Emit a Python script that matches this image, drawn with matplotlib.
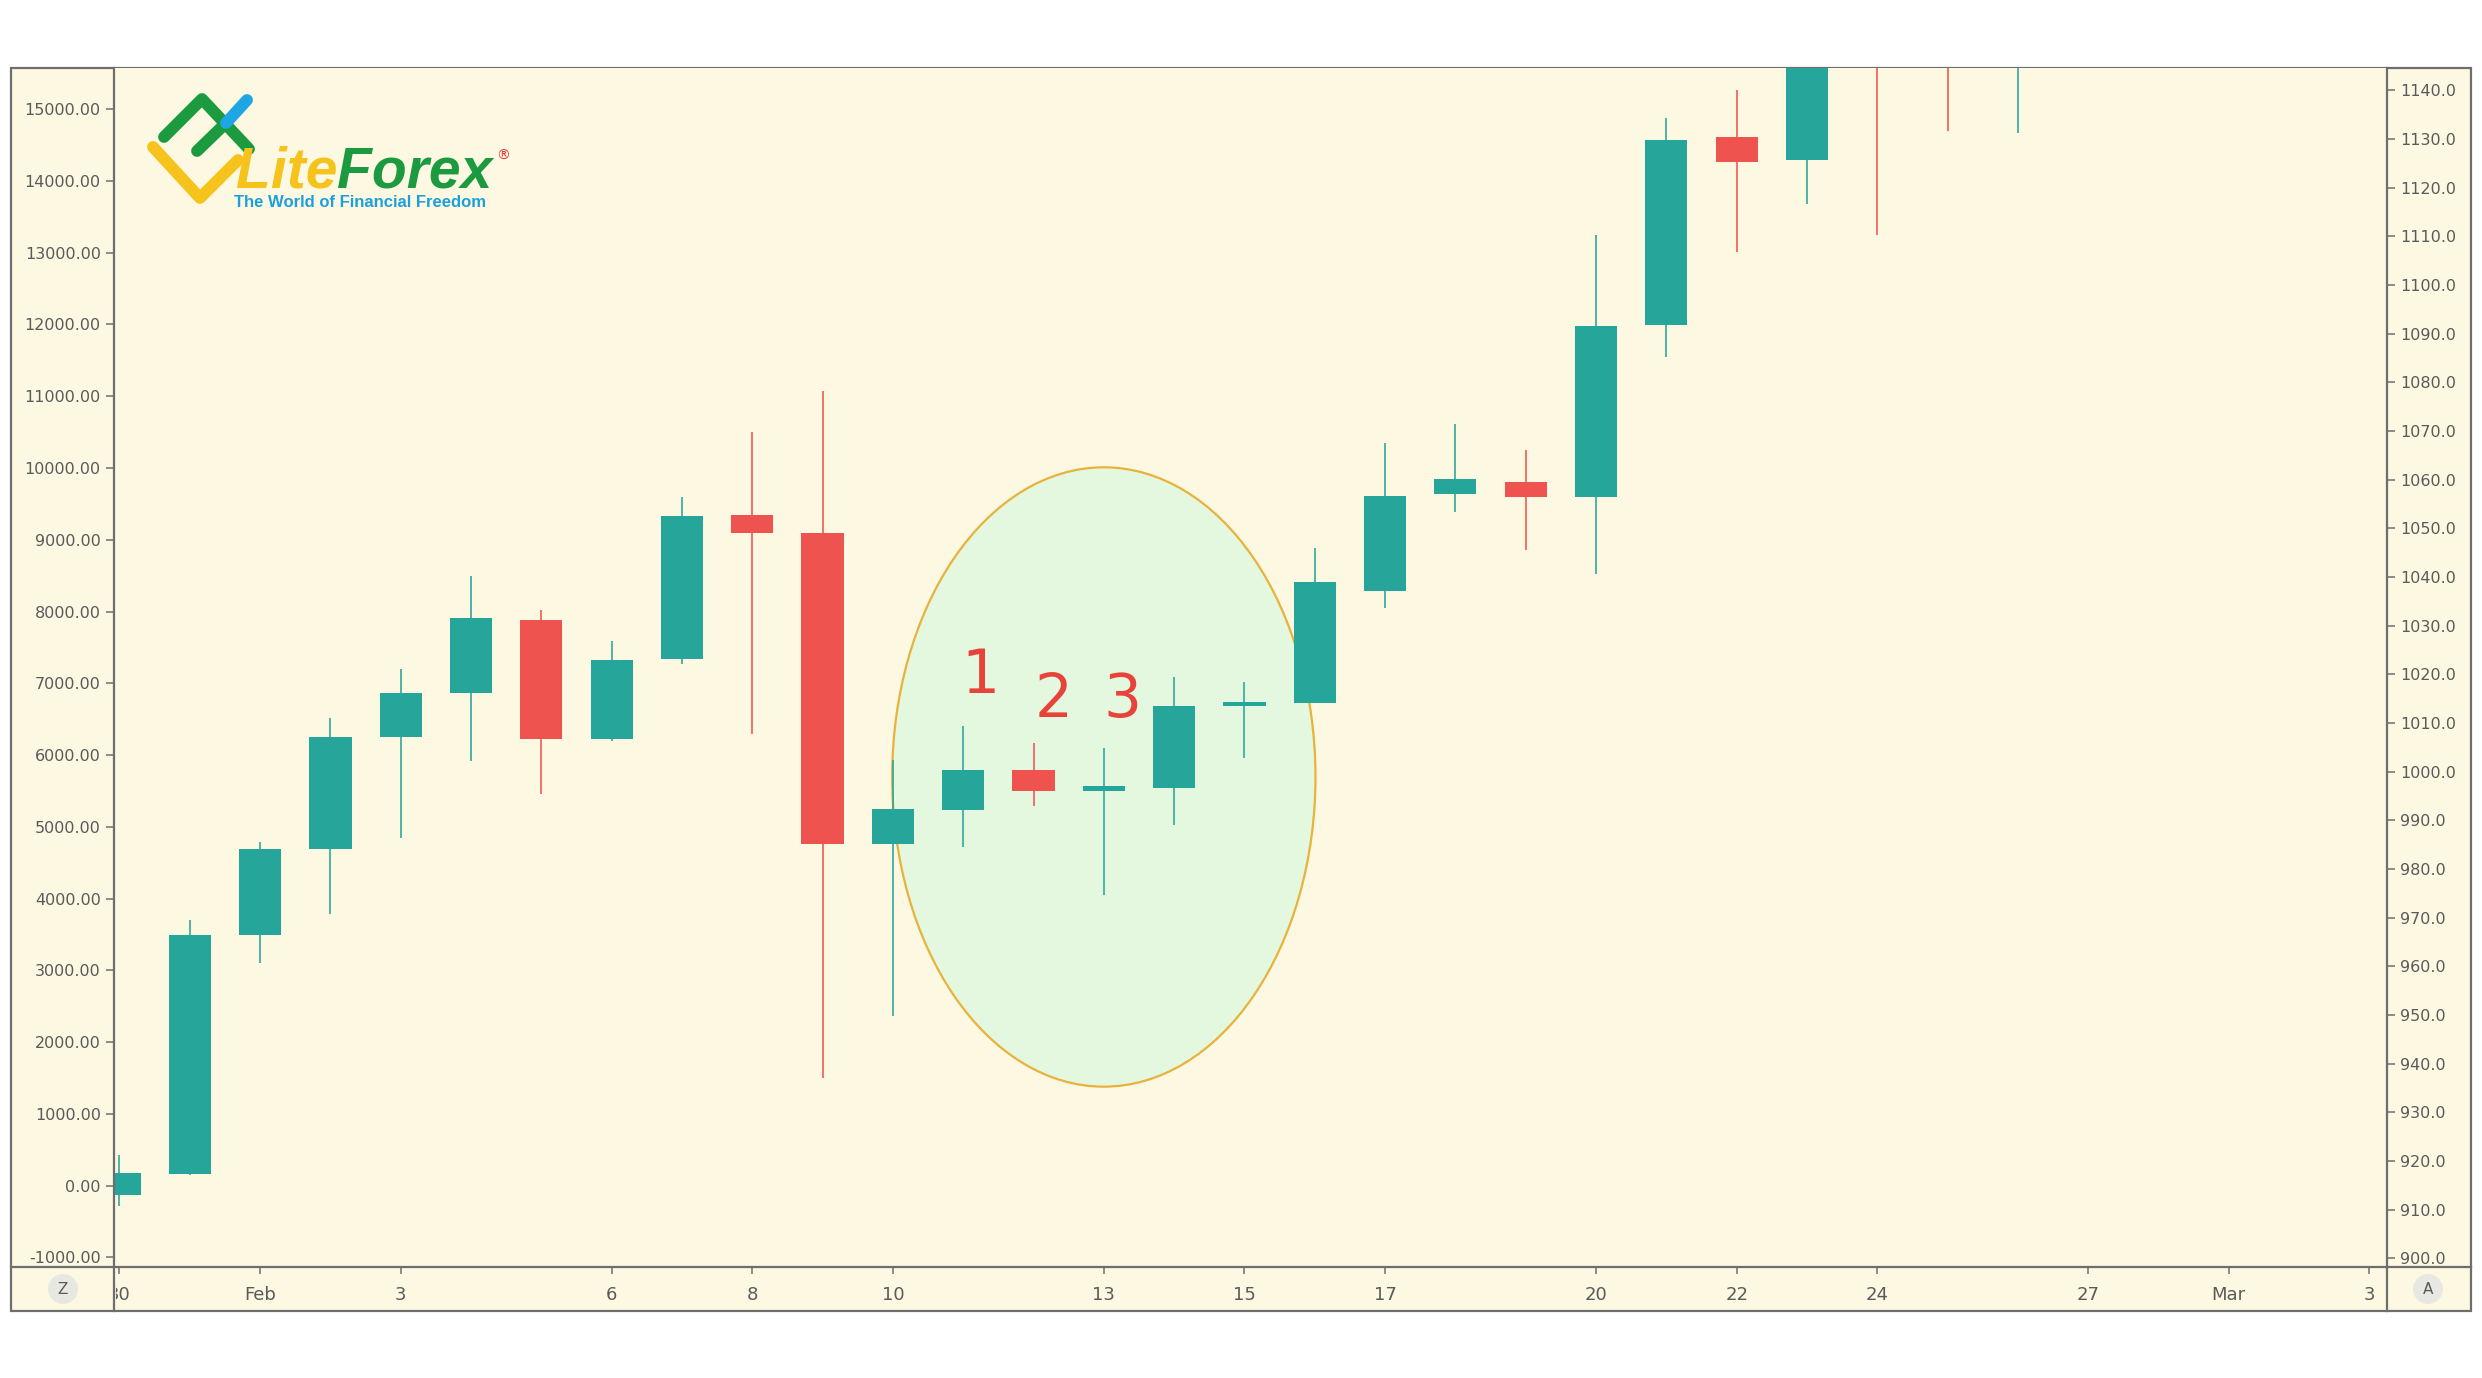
import numpy as np
import matplotlib
matplotlib.use("Agg")
import matplotlib.pyplot as plt
from matplotlib.patches import Rectangle, Ellipse
from matplotlib.lines import Line2D
from matplotlib.transforms import Bbox, TransformedBbox
from matplotlib import font_manager

# ---------------- data ----------------
dates = ["Jan 30", "Jan 31", "Feb 1", "Feb 2", "Feb 3", "Feb 4", "Feb 5", "Feb 6",
         "Feb 7", "Feb 8", "Feb 9", "Feb 10", "Feb 11", "Feb 12", "Feb 13", "Feb 14",
         "Feb 15", "Feb 16", "Feb 17", "Feb 18", "Feb 19", "Feb 20", "Feb 21", "Feb 22",
         "Feb 23", "Feb 24", "Feb 25", "Feb 26"]
opens = [-132, 164, 3488, 4692, 6256, 6866, 7882, 6224, 7335, 9344, 9101, 4761, 5241, 5794,
         5505, 5544, 6688, 6721, 8286, 9637, 9805, 9593, 11992, 14616, 14296, 17200, 16900, 16300]
highs = [422, 3707, 4786, 6522, 7194, 8500, 8023, 7585, 9603, 10502, 11073, 5932, 6405, 6168,
         6103, 7089, 7017, 8891, 10345, 10607, 10256, 13245, 14871, 15271, 16900, 17600, 17300, 17400]
lows = [-289, 150, 3097, 3784, 4847, 5912, 5458, 6200, 7265, 6287, 1502, 2367, 4715, 5288,
        4045, 5024, 5965, 6721, 8044, 9393, 8858, 8526, 11550, 13011, 13682, 13249, 14690, 14663]
closes = [170, 3488, 4692, 6256, 6866, 7906, 6224, 7319, 9328, 9101, 4762, 5254, 5794, 5505,
          5570, 6688, 6745, 8410, 9606, 9848, 9593, 11981, 14567, 14269, 16300, 16600, 16300, 17000]

xtick_days = [0, 2, 4, 7, 9, 11, 14, 16, 18, 21, 23, 25, 28, 30, 32]
xtick_labels = ["30", "Feb", "3", "6", "8", "10", "13", "15", "17", "20", "22", "24", "27", "Mar", "3"]
left_ticks = list(range(-1000, 15001, 1000))
right_ticks = list(range(900, 1141, 10))

pattern_labels = ["1", "2", "3"]
pattern_x = [12.25, 13.28, 14.26]
pattern_y = [6859, 6530, 6530]

# ---------------- style ----------------
W, H = 2482, 1378
CREAM = "#FDF8E2"
FRAME = "#6e6e6e"
TEAL = "#26A69A"
RED = "#EF5350"
LABEL = "#5a5a5a"

def fx(x):
    return x / W

def fy(y):
    return 1 - y / H

available = {f.name for f in font_manager.fontManager.ttflist}
narrow = "Liberation Sans Narrow" if "Liberation Sans Narrow" in available else "DejaVu Sans"

plt.rcParams["font.family"] = ["DejaVu Sans"]

fig = plt.figure(figsize=(W / 100, H / 100), dpi=100)
fig.patch.set_facecolor("white")

# frame background
fig.add_artist(Rectangle((fx(11), fy(1311)), (2471 - 11) / W, (1311 - 68) / H,
                         transform=fig.transFigure, facecolor=CREAM, edgecolor=FRAME,
                         linewidth=1.6, zorder=0))

ax = fig.add_axes([fx(114), fy(1267), (2387 - 114) / W, (1267 - 68) / H])
ax.set_facecolor(CREAM)
for s in ax.spines.values():
    s.set_visible(False)

x = np.arange(len(dates))
o = np.array(opens, float)
c = np.array(closes, float)
hi = np.array(highs, float)
lo = np.array(lows, float)
up = c >= o
cols = np.where(up, TEAL, RED)

# highlight ellipse
ax.add_patch(Ellipse((14.0, 5695), 6.02, 8630, facecolor="#E3F8DE", edgecolor="#E8B23C",
                     linewidth=1.6, zorder=1))

ax.vlines(x, lo, hi, colors=cols, linewidth=1.15, zorder=2)
ax.bar(x, np.abs(c - o), bottom=np.minimum(o, c), width=0.6, color=cols, linewidth=0, zorder=3)

for lab, px, py in zip(pattern_labels, pattern_x, pattern_y):
    ax.text(px, py, lab, ha="center", va="baseline", fontsize=43, color="#E8433A", zorder=4)

ax.set_xlim(-0.078, 32.25)
ax.set_ylim(-1133, 15574)

ax.set_yticks(left_ticks)
ax.set_yticklabels([f"{v:.2f}" for v in left_ticks])
ax.tick_params(axis="y", direction="out", length=5.5, width=1.1, color=FRAME,
               labelsize=11.5, labelcolor=LABEL, pad=4)

ax.set_xticks(xtick_days)
ax.set_xticklabels(xtick_labels)
ax.tick_params(axis="x", direction="out", length=5, width=1.1, color=FRAME,
               labelsize=13, labelcolor=LABEL, pad=9)
for t in ax.get_xticklabels():
    t.set_fontfamily(narrow)
clipbox = TransformedBbox(Bbox.from_extents(fx(116), 0, fx(2387), 1), fig.transFigure)
first = ax.get_xticklabels()[0]
first.set_clip_on(True)
first.set_clip_box(clipbox)

ax2 = ax.twinx()
for s in ax2.spines.values():
    s.set_visible(False)
ax2.set_ylim(898.25, 1144.56)
ax2.set_yticks(right_ticks)
ax2.set_yticklabels([f"{v:.1f}" for v in right_ticks])
ax2.tick_params(axis="y", direction="out", length=5.5, width=1.1, color=FRAME,
                labelsize=11.5, labelcolor=LABEL, pad=4)

# frame lines
for (x0, y0, x1, y1) in [(114, 68, 114, 1311), (2387, 68, 2387, 1311), (11, 1267, 2471, 1267)]:
    fig.add_artist(Line2D([fx(x0), fx(x1)], [fy(y0), fy(y1)], transform=fig.transFigure,
                          color=FRAME, linewidth=1.6, zorder=5))

# Z / A buttons
for (cx, cy, s) in [(63, 1289, "Z"), (2428, 1289, "A")]:
    fig.add_artist(Ellipse((fx(cx), fy(cy)), 30 / W, 30 / H, transform=fig.transFigure,
                           facecolor="#E8E8E2", edgecolor="none", zorder=5))
    fig.text(fx(cx), fy(cy), s, ha="center", va="center", fontsize=11, color=LABEL,
             family=narrow, zorder=6)

# logo icon
DY = -10

def stroke(pts, color):
    xs = [fx(p[0]) for p in pts]
    ys = [fy(p[1] + DY) for p in pts]
    fig.add_artist(Line2D(xs, ys, transform=fig.transFigure, color=color, linewidth=8.5,
                          solid_capstyle="round", solid_joinstyle="round", zorder=7))

stroke([(153, 157), (200, 208), (238, 170)], "#F6C21C")
stroke([(164, 147), (202, 109), (249, 159)], "#1C9A40")
stroke([(197, 161), (226, 133)], "#1C9A40")
stroke([(226, 133), (247, 110)], "#1CA6E4")

t1 = fig.text(fx(236), fy(197 + DY), "Lite", fontsize=41, color="#F6C21C", family="Liberation Sans",
              weight="bold", style="italic", ha="left", va="baseline", zorder=8)
fig.canvas.draw()
r = fig.canvas.get_renderer()
bb = t1.get_window_extent(r)
t2 = fig.text(bb.x1 / W, fy(197 + DY), "Forex", fontsize=41, color="#1C9A40", family="Liberation Sans",
              weight="bold", style="italic", ha="left", va="baseline", zorder=8)
fig.canvas.draw()
bb2 = t2.get_window_extent(r)
fig.text(bb2.x1 / W + 3 / W, fy(156), "\u00ae", fontsize=10, color="#E53935", ha="left",
         va="center", zorder=8)
fig.text(fx(234), fy(217 + DY), "The World of Financial Freedom", fontsize=12, color="#1CA0DC",
         family="Liberation Sans", weight="bold", ha="left", va="baseline", zorder=8)

fig.savefig("out.png", dpi=100, facecolor="white")
